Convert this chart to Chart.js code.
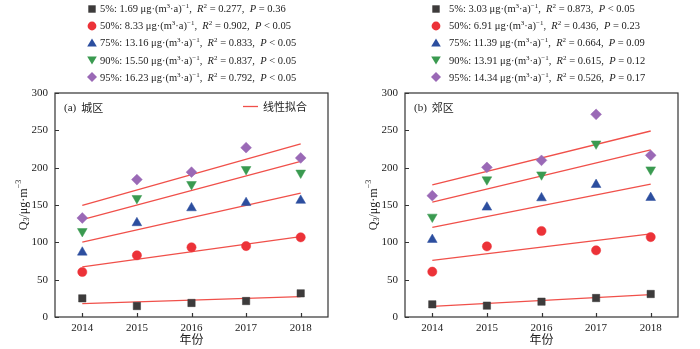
<!DOCTYPE html>
<html><head><meta charset="utf-8">
<script src="https://cdn.jsdelivr.net/npm/chart.js@4/dist/chart.umd.min.js"></script>
<style>
body{margin:0;width:700px;height:349px;background:#fff;position:relative;overflow:hidden;font-family:"Liberation Serif","Noto Sans CJK SC",serif;}
canvas{position:absolute;top:0;}
.leg{position:absolute;top:0;left:0;width:350px;height:90px;font-size:10.5px;color:#222;}
.row{position:absolute;white-space:nowrap;height:17px;line-height:17px;}
.mk{position:absolute;}
sup{font-size:7px;vertical-align:0;position:relative;top:-4px;}
i{font-style:italic;}
</style></head>
<body>
<canvas id="ca" width="350" height="349" style="left:0"></canvas>
<canvas id="cb" width="350" height="349" style="left:350px"></canvas>
<div class="leg" id="lega"></div>
<div class="leg" id="legb" style="left:350px"></div>
<script>
// ---- data ----
const years = ['2014','2015','2016','2017','2018'];
const percentiles = ['5%','50%','75%','90%','95%'];
const yTicks = [0,50,100,150,200,250,300];

const urban5  = [25, 14.7, 18.8, 21.4, 31.7];
const urban50 = [60.3, 82.6, 93.3, 95, 106.7];
const urban75 = [86.6, 126, 146, 153, 156];
const urban90 = [114.7, 159, 177.7, 197.8, 193];
const urban95 = [132.6, 184, 194, 226.8, 213];
const urbanFitStart = [18, 67, 100.4, 130.4, 149.6];
const urbanFitEnd   = [27.2, 107.6, 166, 208.5, 231.7];
const urbanSlope = ['1.69','8.33','13.16','15.50','16.23'];
const urbanR2    = ['0.277','0.902','0.833','0.837','0.792'];
const urbanP     = ['= 0.36','< 0.05','< 0.05','< 0.05','< 0.05'];

const sub5  = [17, 15.2, 20.5, 25.4, 30.8];
const sub50 = [60.7, 94.6, 115.2, 89.3, 107];
const sub75 = [103.6, 146.9, 159.4, 177.2, 159.8];
const sub90 = [134, 184, 190.6, 232, 197.3];
const sub95 = [162.5, 200.4, 209.8, 271.4, 216.5];
const subFitStart = [14.3, 75.9, 120, 154, 176.8];
const subFitEnd   = [30, 111.2, 178, 223.7, 249.1];
const subSlope = ['3.03','6.91','11.39','13.91','14.34'];
const subR2    = ['0.873','0.436','0.664','0.615','0.526'];
const subP     = ['< 0.05','= 0.23','= 0.09','= 0.12','= 0.17'];

// ---- styles ----
const colors = ['#3d3b3b','#ec3238','#2c4e9f','#3a9a50','#9a69b6'];
const shapes = ['rect','circle','triangle','triangle','rectRot'];
const rotations = [0,0,0,180,0];
const radii = [5.2,4.6,5.6,5.6,5.4];
const fitColor = '#f0504a';
const SERIF = '"Liberation Serif", "Times New Roman", serif';
const CJK = '"Noto Sans CJK SC", sans-serif';

function markerSvg(i){
  const c = colors[i];
  let s = '';
  if(i===0) s = `<rect x="1.3" y="1.3" width="7.4" height="7.4" fill="${c}"/>`;
  if(i===1) s = `<circle cx="5" cy="5" r="4.4" fill="${c}"/>`;
  if(i===2) s = `<polygon points="5,0.5 9.8,8.6 0.2,8.6" fill="${c}"/>`;
  if(i===3) s = `<polygon points="5,9.5 9.8,1.4 0.2,1.4" fill="${c}"/>`;
  if(i===4) s = `<polygon points="5,0 10,5 5,10 0,5" fill="${c}"/>`;
  return `<svg class="mk" width="10" height="10" viewBox="0 0 10 10">${s}</svg>`;
}
function buildLegend(id, slope, r2, p, markerX, textX){
  const el = document.getElementById(id);
  let h = '';
  for(let i=0;i<5;i++){
    const cy = 8.5 + i*17.2;
    h += `<div style="position:absolute;left:${markerX-5}px;top:${cy-5}px">${markerSvg(i)}</div>`;
    h += `<div class="row" style="left:${textX}px;top:${cy-8.5}px">${percentiles[i]}: ${slope[i]} μg·(m<sup>3</sup>·a)<sup>−1</sup>,&nbsp; <i>R</i><sup>2</sup> = ${r2[i]},&nbsp; <i>P</i> ${p[i]}</div>`;
  }
  el.innerHTML = h;
}
buildLegend('lega', urbanSlope, urbanR2, urbanP, 92, 100);
buildLegend('legb', subSlope, subR2, subP, 86, 99);

const framePlugin = {
  id: 'frame',
  afterDraw(chart, args, opts){
    const {ctx, chartArea:a, scales:{x,y}} = chart;
    ctx.save();
    ctx.strokeStyle = '#333';
    ctx.lineWidth = 1.2;
    ctx.strokeRect(a.left, a.top, a.right-a.left, a.bottom-a.top);
    ctx.beginPath();
    y.ticks.forEach(t => {
      const py = Math.round(y.getPixelForValue(t.value))+0.5;
      ctx.moveTo(a.left, py); ctx.lineTo(a.left+4, py);
    });
    x.ticks.forEach((t,i) => {
      const px = Math.round(x.getPixelForTick(i))+0.5;
      ctx.moveTo(px, a.bottom); ctx.lineTo(px, a.bottom-4);
    });
    ctx.stroke();
    // panel label
    ctx.fillStyle = '#222';
    ctx.textBaseline = 'middle';
    ctx.font = '11px ' + SERIF;
    ctx.fillText(opts.tag, a.left+9, a.top+15);
    const w = ctx.measureText(opts.tag).width;
    ctx.font = '11px ' + CJK;
    ctx.fillText(opts.name, a.left+9+w+5, a.top+15);
    if(opts.fitLabel){
      ctx.strokeStyle = fitColor; ctx.lineWidth = 1.3;
      ctx.beginPath(); ctx.moveTo(a.left+188, a.top+13.5); ctx.lineTo(a.left+203, a.top+13.5); ctx.stroke();
      ctx.fillText(opts.fitLabel, a.left+208, a.top+14);
    }
    // y-axis title with sub/superscripts
    const parts = [
      {t:'Q', f:'12px ', dy:0},
      {t:'3', f:'8px ', dy:3},
      {t:'/μg·m', f:'12px ', dy:0},
      {t:'−3', f:'8px ', dy:-5}
    ];
    let total = 0;
    parts.forEach(p => { ctx.font = p.f + SERIF; p.w = ctx.measureText(p.t).width; total += p.w; });
    ctx.translate(24, (a.top+a.bottom)/2);
    ctx.rotate(-Math.PI/2);
    ctx.textBaseline = 'middle';
    ctx.textAlign = 'left';
    let cx = -total/2;
    parts.forEach(p => { ctx.font = p.f + SERIF; ctx.fillText(p.t, cx, p.dy); cx += p.w; });
    ctx.restore();
  }
};

function makeChart(id, series, fitStart, fitEnd, tag, name, fitLabel){
  const datasets = [];
  for(let i=0;i<5;i++){
    datasets.push({
      label: 'fit ' + percentiles[i],
      data: [{x: years[0], y: fitStart[i]}, {x: years[years.length-1], y: fitEnd[i]}],
      borderColor: fitColor, borderWidth: 1.3, pointRadius: 0, showLine: true, order: 10
    });
  }
  for(let i=0;i<5;i++){
    datasets.push({
      label: percentiles[i],
      data: series[i],
      showLine: false,
      pointStyle: shapes[i], pointRotation: rotations[i], pointRadius: radii[i],
      backgroundColor: colors[i], borderColor: colors[i], borderWidth: 0.5, order: 0
    });
  }
  return new Chart(document.getElementById(id), {
    type: 'line',
    data: { labels: years, datasets },
    options: {
      responsive: false, animation: false,
      layout: { padding: { top: 93, right: 22, bottom: 0, left: 0 } },
      plugins: { legend: { display: false }, tooltip: { enabled: false },
        frame: { tag, name, fitLabel } },
      scales: {
        x: {
          type: 'category', offset: true,
          grid: { display: false, drawTicks: false },
          border: { display: false },
          ticks: { padding: 5, color: '#222', font: { family: SERIF, size: 11 } },
          title: { display: true, text: '年份', color: '#222', padding: { top: 0, bottom: 2 }, font: { family: CJK, size: 12 } },
          afterFit(s){ s.height = 32; }
        },
        y: {
          min: 0, max: 300,
          afterBuildTicks(s){ s.ticks = yTicks.map(v => ({value: v})); },
          grid: { display: false, drawTicks: false },
          border: { display: false },
          ticks: { padding: 7, color: '#222', font: { family: SERIF, size: 11 } },
          title: { display: false },
          afterFit(s){ s.width = 55; }
        }
      }
    },
    plugins: [framePlugin]
  });
}

makeChart('ca', [urban5, urban50, urban75, urban90, urban95], urbanFitStart, urbanFitEnd, '(a)', '城区', '线性拟合');
makeChart('cb', [sub5, sub50, sub75, sub90, sub95], subFitStart, subFitEnd, '(b)', '郊区', null);
</script>
</body></html>
